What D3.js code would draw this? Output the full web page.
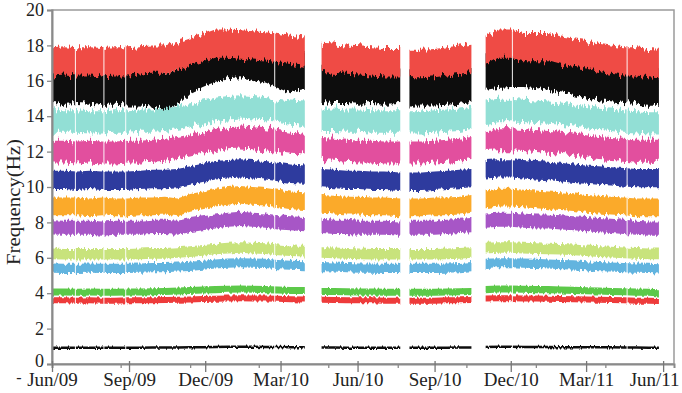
<!DOCTYPE html>
<html>
<head>
<meta charset="utf-8">
<script src="https://cdn.jsdelivr.net/npm/d3@7/dist/d3.min.js"></script>
<style>
  html, body { margin: 0; padding: 0; background: #fff; }
  svg { display: block; }
  text { font-family: "Liberation Serif", "DejaVu Serif", serif; fill: #222; }
</style>
</head>
<body>
<svg id="chart" width="682" height="393"></svg>
<script>
// ---------- DATA ----------
// sample dates (null values in the series mark the monitoring gaps)
const sampleDates = [
  "2009-06-01","2009-06-16","2009-07-01","2009-07-16","2009-07-31","2009-08-15","2009-08-30",
  "2009-09-14","2009-09-29","2009-10-14","2009-10-29","2009-11-13","2009-11-28","2009-12-13",
  "2009-12-28","2010-01-12","2010-01-27","2010-02-11","2010-02-26","2010-03-13","2010-03-30",
  "2010-04-09",
  "2010-04-19","2010-05-04","2010-05-19","2010-06-03","2010-06-18","2010-07-03","2010-07-22",
  "2010-07-28",
  "2010-08-02","2010-08-17","2010-09-01","2010-09-16","2010-10-01","2010-10-15",
  "2010-10-24",
  "2010-11-01","2010-11-16","2010-12-01","2010-12-16","2010-12-31","2011-01-15","2011-01-30",
  "2011-02-14","2011-03-01","2011-03-16","2011-03-31","2011-04-15","2011-04-30","2011-05-15","2011-05-27"
];

// band centre frequencies (Hz) of each identified mode
const mode1 = [0.92,0.92,0.92,0.92,0.92,0.92,0.92,0.92,0.93,0.93,0.93,0.94,0.95,0.96,0.97,0.97,0.97,0.96,0.96,0.95,0.95, null,
  0.93,0.93,0.92,0.92,0.92,0.92,0.92, null, 0.92,0.92,0.92,0.92,0.93,0.93, null,
  0.96,0.97,0.97,0.96,0.96,0.96,0.95,0.95,0.95,0.94,0.94,0.93,0.93,0.92,0.92];
const mode2 = [3.6,3.6,3.58,3.6,3.58,3.58,3.6,3.6,3.6,3.62,3.63,3.65,3.67,3.69,3.7,3.72,3.7,3.7,3.68,3.66,3.65, null,
  3.63,3.62,3.6,3.6,3.6,3.58,3.58, null, 3.58,3.58,3.58,3.6,3.6,3.62, null,
  3.7,3.72,3.72,3.7,3.7,3.68,3.67,3.66,3.65,3.63,3.62,3.6,3.58,3.57,3.56];
const mode3 = [4.07,4.07,4.05,4.07,4.05,4.05,4.07,4.07,4.08,4.1,4.12,4.15,4.18,4.2,4.22,4.24,4.22,4.2,4.18,4.15,4.15, null,
  4.1,4.1,4.08,4.07,4.07,4.05,4.05, null, 4.05,4.05,4.05,4.07,4.08,4.1, null,
  4.2,4.24,4.24,4.22,4.2,4.2,4.18,4.16,4.14,4.12,4.1,4.08,4.06,4.05,4.02];
const mode4 = [5.42,5.4,5.4,5.42,5.4,5.4,5.4,5.42,5.45,5.45,5.48,5.52,5.58,5.65,5.7,5.72,5.7,5.68,5.62,5.58,5.55, null,
  5.5,5.48,5.45,5.42,5.42,5.4,5.4, null, 5.4,5.4,5.4,5.42,5.45,5.5, null,
  5.68,5.72,5.72,5.7,5.68,5.65,5.62,5.6,5.55,5.5,5.48,5.45,5.42,5.4,5.38];
const mode5 = [6.22,6.2,6.2,6.2,6.2,6.2,6.2,6.22,6.25,6.25,6.3,6.35,6.42,6.5,6.55,6.58,6.55,6.52,6.45,6.4,6.38, null,
  6.3,6.28,6.25,6.22,6.2,6.2,6.2, null, 6.2,6.2,6.2,6.22,6.25,6.3, null,
  6.55,6.58,6.58,6.55,6.52,6.5,6.48,6.45,6.4,6.35,6.32,6.28,6.25,6.22,6.22];
const mode6 = [7.72,7.7,7.7,7.7,7.65,7.7,7.7,7.7,7.75,7.75,7.7,7.85,7.95,8.05,8.15,8.2,8.15,8.1,8.0,7.95,7.9, null,
  7.8,7.75,7.75,7.7,7.7,7.7,7.65, null, 7.7,7.7,7.7,7.75,7.8,7.85, null,
  8.1,8.15,8.15,8.1,8.05,8.05,8.0,7.95,7.9,7.85,7.8,7.75,7.7,7.65,7.65];
const mode7 = [8.9,8.9,8.9,8.85,8.9,8.85,8.85,8.9,8.9,8.95,8.85,9.1,9.25,9.4,9.5,9.55,9.5,9.45,9.35,9.25,9.2, null,
  9.05,9.0,8.95,8.95,8.9,8.9,8.85, null, 8.85,8.85,8.9,8.9,8.95,9.05, null,
  9.3,9.4,9.4,9.35,9.3,9.25,9.2,9.15,9.05,9.0,8.95,8.9,8.85,8.85,8.85];
const mode8 = [10.4,10.4,10.35,10.4,10.35,10.35,10.35,10.4,10.45,10.45,10.5,10.65,10.8,10.95,11.0,11.05,11.0,10.95,10.85,10.75,10.7, null,
  10.5,10.45,10.4,10.4,10.35,10.35,10.3, null, 10.3,10.3,10.35,10.4,10.45,10.5, null,
  11.0,11.05,11.05,11.0,10.95,10.9,10.85,10.75,10.7,10.65,10.6,10.55,10.5,10.5,10.5];
const mode9 = [12.0,12.0,11.95,12.0,11.95,11.95,12.0,12.0,12.05,12.1,12.2,12.35,12.5,12.65,12.75,12.8,12.75,12.7,12.6,12.5,12.45, null,
  12.15,12.1,12.05,12.0,12.0,11.95,11.95, null, 11.95,11.95,12.0,12.05,12.1,12.2, null,
  12.65,12.7,12.7,12.65,12.6,12.55,12.5,12.4,12.3,12.2,12.15,12.1,12.05,12.05,12.05];
const mode10 = [13.7,13.7,13.7,13.65,13.65,13.7,13.7,13.75,13.75,13.8,13.9,14.05,14.2,14.35,14.45,14.5,14.45,14.4,14.3,14.2,14.15, null,
  13.8,13.8,13.75,13.75,13.7,13.7,13.7, null, 13.65,13.65,13.7,13.75,13.8,13.9, null,
  14.25,14.35,14.35,14.3,14.25,14.2,14.15,14.05,13.95,13.85,13.8,13.7,13.65,13.6,13.6];
const mode11 = [15.75,15.7,15.75,15.7,15.65,15.65,15.6,15.6,15.55,15.4,15.6,16.3,16.65,16.95,17.15,17.2,17.05,16.9,16.6,16.3,16.5, null,
  15.8,15.75,15.75,15.7,15.75,15.7,15.75, null, 15.6,15.6,15.6,15.65,15.7,15.8, null,
  16.5,16.6,16.65,16.65,16.6,16.5,16.35,16.2,16.0,15.9,15.85,15.75,15.7,15.65,15.65];
const mode12 = [17.1,17.15,17.1,17.1,17.05,17.1,17.1,17.15,17.2,17.2,17.4,17.65,17.85,18.1,18.1,18.05,18.0,17.95,17.85,17.75,17.65, null,
  17.3,17.25,17.2,17.15,17.1,17.05,17.05, null, 16.95,16.95,17.0,17.1,17.2,17.3, null,
  17.7,18.1,18.1,17.9,17.9,17.9,17.7,17.6,17.5,17.3,17.2,17.1,17.1,17.0,16.95];

const modes = [mode1, mode2, mode3, mode4, mode5, mode6, mode7, mode8, mode9, mode10, mode11, mode12];
// half of the scatter band of each mode (Hz)
const bandHalfWidth = [0.07, 0.17, 0.2, 0.26, 0.3, 0.4, 0.5, 0.52, 0.62, 0.63, 1.0, 0.8];
const modeColors = ["#111111", "#ee3b3b", "#5cc94a", "#62b4df", "#c8e37c", "#a757c6",
                    "#fbaa2c", "#2f3a9e", "#e24f9e", "#92dfd5", "#0a0a0a", "#ef4b45"];
// short data outages inside the records
const outageDates = ["2009-06-29", "2009-08-02", "2009-08-28", "2010-02-22", "2010-12-03", "2011-04-19"];

const yTicks = [0, 2, 4, 6, 8, 10, 12, 14, 16, 18, 20];
const xLabelDates = ["2009-06-01","2009-09-01","2009-12-01","2010-03-01","2010-06-01","2010-09-01","2010-12-01","2011-03-01","2011-06-01"];
const xLabels = ["Jun/09","Sep/09","Dec/09","Mar/10","Jun/10","Sep/10","Dec/10","Mar/11","Jun/11"];
const xMinorDates = ["2009-08-22","2009-11-13","2010-02-03","2010-04-27","2010-07-19","2010-10-09","2010-12-31","2011-03-24"];

// ---------- CHART ----------
const parse = d3.timeParse("%Y-%m-%d");
const svg = d3.select("#chart");
const mLeft = 52, mRight = 674, mTop = 10, mBottom = 364;

const x = d3.scaleTime().domain([parse("2009-06-01"), parse("2011-06-14")]).range([mLeft, mRight]);
const y = d3.scaleLinear().domain([0, 20]).range([mBottom, mTop]);

const defs = svg.append("defs");
defs.append("clipPath").attr("id", "clip")
  .append("rect").attr("x", mLeft).attr("y", mTop).attr("width", mRight - mLeft).attr("height", mBottom - mTop);

function roughFilter(id, scale) {
  const f = defs.append("filter").attr("id", id)
    .attr("x", "-2%").attr("y", "-20%").attr("width", "104%").attr("height", "140%");
  f.append("feTurbulence").attr("type", "fractalNoise").attr("baseFrequency", "0.5 0.035")
    .attr("numOctaves", 2).attr("seed", 7).attr("result", "noise");
  f.append("feColorMatrix").attr("in", "noise").attr("type", "matrix")
    .attr("values", "1 0 0 0 0  0 0 0 0 0.5  0 0 1 0 0  0 0 0 0 1").attr("result", "nm");
  f.append("feDisplacementMap").attr("in", "SourceGraphic").attr("in2", "nm")
    .attr("scale", scale).attr("xChannelSelector", "G").attr("yChannelSelector", "R");
}
roughFilter("roughStrong", 13);
roughFilter("roughMid", 7);
roughFilter("roughLight", 4);

const dates = sampleDates.map(parse);
const plot = svg.append("g").attr("clip-path", "url(#clip)");

modes.forEach((vals, i) => {
  const pts = dates.map((d, k) => ({ date: d, v: vals[k] }));
  const hw = bandHalfWidth[i];
  const area = d3.area()
    .defined(p => p.v !== null)
    .x(p => x(p.date))
    .y0(p => y(p.v - hw))
    .y1(p => y(p.v + hw));
  const filt = i >= 8 ? "roughStrong" : (i >= 3 ? "roughMid" : "roughLight");
  plot.append("g").attr("filter", `url(#${filt})`)
    .append("path").datum(pts).attr("d", area).attr("fill", modeColors[i]);
});

// outages
plot.selectAll("line.gap").data(outageDates.map(parse)).join("line")
  .attr("class", "gap")
  .attr("x1", d => x(d)).attr("x2", d => x(d))
  .attr("y1", y(19.5)).attr("y2", y(0.4))
  .attr("stroke", "#fff").attr("stroke-width", 1.1).attr("stroke-opacity", 0.85);

// frame
svg.append("rect").attr("x", mLeft).attr("y", mTop).attr("width", mRight - mLeft).attr("height", mBottom - mTop)
  .attr("fill", "none").attr("stroke", "#9a9a9a").attr("stroke-width", 1.5);

// y axis
const yAxis = svg.append("g").attr("transform", `translate(${mLeft},0)`)
  .call(d3.axisLeft(y).tickValues(yTicks).tickSize(5).tickPadding(3).tickFormat(d3.format("d")));
yAxis.select(".domain").attr("stroke", "#8a8a8a").attr("stroke-width", 2);
yAxis.selectAll(".tick line").attr("stroke", "#8a8a8a").attr("stroke-width", 1.3);
yAxis.selectAll(".tick text").style("font-size", "18px").style("font-family", "Liberation Serif").attr("fill", "#222")
  .attr("dy", d => d === 0 ? "0.12em" : "0.32em");

// x axis: minor ticks
const xMinor = svg.append("g").attr("transform", `translate(0,${mBottom})`)
  .call(d3.axisBottom(x).tickValues(xMinorDates.map(parse)).tickSize(4).tickFormat(""));
xMinor.select(".domain").attr("stroke", "#8a8a8a").attr("stroke-width", 2);
xMinor.selectAll(".tick line").attr("stroke", "#8a8a8a").attr("stroke-width", 1.3);

// x axis: labelled ticks
const xMajor = svg.append("g").attr("transform", `translate(0,${mBottom - 3})`)
  .call(d3.axisBottom(x).tickValues(xLabelDates.map(parse)).tickSize(11)
        .tickFormat((d, i) => xLabels[i]));
xMajor.select(".domain").remove();
xMajor.selectAll(".tick line").attr("stroke", "#777").attr("stroke-width", 1.3);
xMajor.selectAll(".tick text").attr("y", 25).attr("dy", 0)
  .attr("dx", (d, i) => i === xLabels.length - 1 ? -9 : 0)
  .style("font-size", "19px").style("font-family", "Liberation Serif").attr("fill", "#222");

// small dash left of first label
svg.append("text").attr("x", 19).attr("y", 383).attr("text-anchor", "middle")
  .style("font-size", "16px").text("-");

// y title
svg.append("text")
  .attr("transform", "translate(20,202) rotate(-90)")
  .attr("text-anchor", "middle")
  .attr("textLength", 126).attr("lengthAdjust", "spacingAndGlyphs")
  .style("font-size", "19px")
  .text("Frequency(Hz)");
</script>
</body>
</html>
